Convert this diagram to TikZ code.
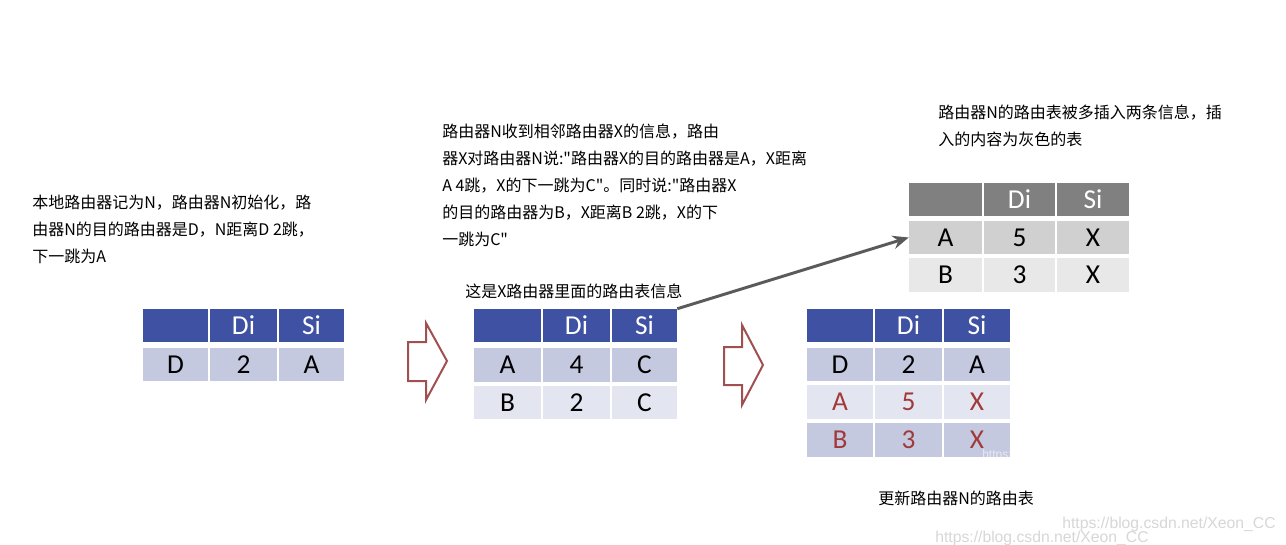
\documentclass[tikz,border=0pt]{standalone}
\usepackage{fontspec}
\usetikzlibrary{arrows.meta}
\newfontfamily\cjk{Noto Sans CJK SC}
\newfontfamily\tabfont{Carlito}
\newfontfamily\wmfont{Liberation Sans}
\definecolor{hdr}{RGB}{63,81,163}
\definecolor{rowa}{RGB}{197,201,223}
\definecolor{rowb}{RGB}{227,229,240}
\definecolor{redtxt}{RGB}{160,58,58}
\definecolor{ghdr}{RGB}{128,128,128}
\definecolor{grya}{RGB}{208,208,208}
\definecolor{gryb}{RGB}{232,232,232}
\definecolor{arrowred}{RGB}{160,80,80}
\definecolor{garrow}{RGB}{90,90,90}
\definecolor{wmark}{RGB}{215,215,215}
\newcommand\tcell[7]{%
  \node[cellsty,#6,minimum width={(#4-#2-2)*0.75pt},minimum height={(#5-#3-2)*0.75pt}] (#1) at ({(#2+#4)/2},{(#3+#5)/2}) {#7};}
\begin{document}
\begin{tikzpicture}[x=0.75pt,y=-0.75pt,
  cellsty/.style={rectangle,inner sep=0pt,font=\tabfont\fontsize{20.5}{24}\selectfont},
  hcell/.style={fill=hdr,text=white},
  gcell/.style={fill=ghdr,text=white},
  para/.style={anchor=north west,inner sep=0pt,align=left,font=\cjk\fontsize{12}{20.25}\selectfont},
  line/.style={anchor=west,inner sep=0pt,font=\cjk\fontsize{12}{14}\selectfont},
  blockarrow/.style={draw=arrowred,line width=1.5pt,line join=miter,fill=white},
  grayarrow/.style={draw=garrow,line width=2.2pt,-{Stealth[length=12pt,width=10pt]}},
  wm/.style={anchor=west,inner sep=0pt,text=wmark,font=\wmfont\fontsize{11.8}{14}\selectfont}]
\useasboundingbox[fill=white] (0,0) rectangle (1286,544);

% texts
\node[para] (txtl) at (32,195) {本地路由器记为N，路由器N初始化，路\\由器N的目的路由器是D，N距离D 2跳，\\下一跳为A};
\node[para] (txtm) at (442,124) {路由器N收到相邻路由器X的信息，路由\\器X对路由器N说:"路由器X的目的路由器是A，X距离\\A 4跳，X的下一跳为C"。同时说:"路由器X\\的目的路由器为B，X距离B 2跳，X的下\\一跳为C"};
\node[para] (txtr) at (938,105) {路由器N的路由表被多插入两条信息，插\\入的内容为灰色的表};
\node[line] (txtx) at (465,291) {这是X路由器里面的路由表信息};
\node[line] (txtn) at (878,498) {更新路由器N的路由表};

% table 1
\tcell{ta0}{142}{308}{209}{343}{hcell}{}
\tcell{ta1}{209}{308}{278}{343}{hcell}{Di}
\tcell{ta2}{278}{308}{345}{343}{hcell}{Si}
\tcell{ta3}{142}{347}{209}{382}{fill=rowa}{D}
\tcell{ta4}{209}{347}{278}{382}{fill=rowa}{2}
\tcell{ta5}{278}{347}{345}{382}{fill=rowa}{A}

% table 2
\tcell{tb0}{473}{308}{542}{343}{hcell}{}
\tcell{tb1}{542}{308}{611}{343}{hcell}{Di}
\tcell{tb2}{611}{308}{678}{343}{hcell}{Si}
\tcell{tb3}{473}{347}{542}{383}{fill=rowa}{A}
\tcell{tb4}{542}{347}{611}{383}{fill=rowa}{4}
\tcell{tb5}{611}{347}{678}{383}{fill=rowa}{C}
\tcell{tb6}{473}{385}{542}{420}{fill=rowb}{B}
\tcell{tb7}{542}{385}{611}{420}{fill=rowb}{2}
\tcell{tb8}{611}{385}{678}{420}{fill=rowb}{C}

% table 3
\tcell{tc0}{806}{308}{874}{343}{hcell}{}
\tcell{tc1}{874}{308}{943}{343}{hcell}{Di}
\tcell{tc2}{943}{308}{1011}{343}{hcell}{Si}
\tcell{tc3}{806}{347}{874}{382}{fill=rowa}{D}
\tcell{tc4}{874}{347}{943}{382}{fill=rowa}{2}
\tcell{tc5}{943}{347}{1011}{382}{fill=rowa}{A}
\tcell{tc6}{806}{384}{874}{420}{fill=rowb,text=redtxt}{A}
\tcell{tc7}{874}{384}{943}{420}{fill=rowb,text=redtxt}{5}
\tcell{tc8}{943}{384}{1011}{420}{fill=rowb,text=redtxt}{X}
\tcell{tc9}{806}{422}{874}{458}{fill=rowa,text=redtxt}{B}
\tcell{tc10}{874}{422}{943}{458}{fill=rowa,text=redtxt}{3}
\tcell{tc11}{943}{422}{1011}{458}{fill=rowa,text=redtxt}{X}

% gray table
\tcell{tg0}{908}{182}{983}{217}{gcell}{}
\tcell{tg1}{983}{182}{1056}{217}{gcell}{Di}
\tcell{tg2}{1056}{182}{1130}{217}{gcell}{Si}
\tcell{tg3}{908}{220}{983}{255}{fill=grya}{A}
\tcell{tg4}{983}{220}{1056}{255}{fill=grya}{5}
\tcell{tg5}{1056}{220}{1130}{255}{fill=grya}{X}
\tcell{tg6}{908}{257}{983}{293}{fill=gryb}{B}
\tcell{tg7}{983}{257}{1056}{293}{fill=gryb}{3}
\tcell{tg8}{1056}{257}{1130}{293}{fill=gryb}{X}

% block arrows
\draw[blockarrow] (408,342) -- (426,342) -- (426,323) -- (447,361) -- (426,400) -- (426,381) -- (408,381) -- cycle;
\draw[blockarrow] (724,347) -- (742,347) -- (742,325) -- (763,365) -- (742,405) -- (742,385) -- (724,385) -- cycle;

% gray arrow
\draw[grayarrow] (tb2.north east) -- (tg3.west);

% watermarks
\node[wm] (wm1) at (1062,524) {https://blog.csdn.net/Xeon\_CC};
\node[wm] (wm2) at (935,538) {https://blog.csdn.net/Xeon\_CC};
\node[anchor=west,inner sep=0pt,text=white,opacity=0.6,font=\wmfont\fontsize{9}{10}\selectfont] (wm3) at (982,455) {https:};
\end{tikzpicture}
\end{document}
